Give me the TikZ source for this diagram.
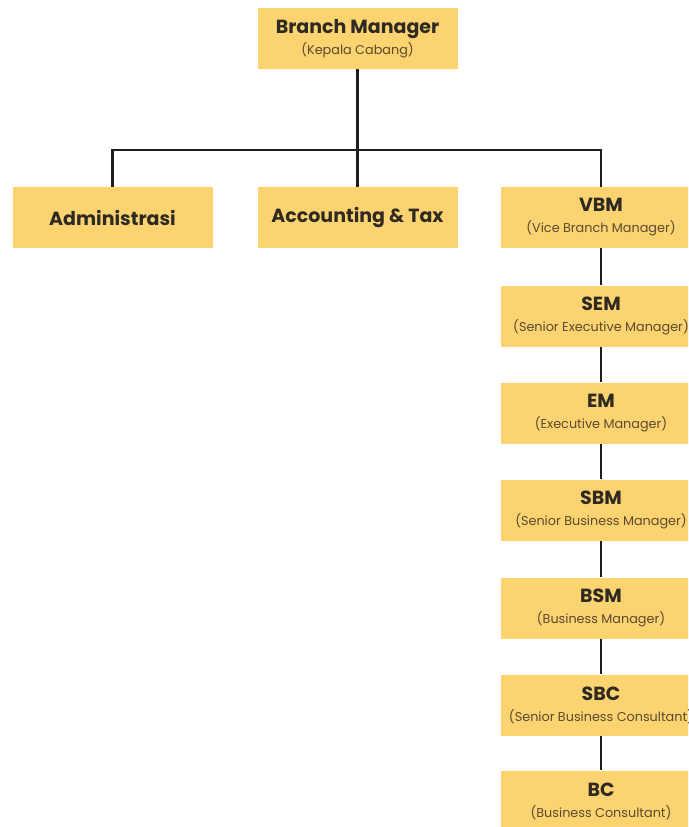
\documentclass[tikz,border=0pt]{standalone}
\usepackage{fontspec}
\setmainfont{Poppins}
\definecolor{boxfill}{HTML}{FCD371}
\definecolor{titlecol}{HTML}{2E2A22}
\definecolor{subcol}{HTML}{5A4A2E}
\definecolor{linecol}{HTML}{1E1E1E}
\tikzset{
  orgbox/.style={fill=boxfill, draw=none, minimum width=200pt, minimum height=61pt,
    inner sep=0pt, align=center, text=titlecol, font=\fontsize{19}{22}\selectfont\bfseries},
  link/.style={draw=linecol, line width=2.6pt},
}
\newcommand{\subt}[1]{\\[-1pt]{\color{subcol}\fontsize{12.8}{14}\selectfont\mdseries #1}}
\begin{document}
\begin{tikzpicture}[x=1pt,y=-1pt]
\useasboundingbox (0,0) rectangle (688,827);
\clip (0,0) rectangle (688,827);
\fill[white] (0,0) rectangle (688,827);
\node[orgbox] (bm) at (357.5,38.5) {Branch Manager\subt{(Kepala Cabang)}};
\node[orgbox] (adm) at (112.5,217.5) {Administrasi};
\node[orgbox] (acc) at (357.5,217.5) {Accounting \& Tax};
\node[orgbox] (vbm) at (601,217.5) {VBM\subt{(Vice Branch Manager)}};
\node[orgbox] (sem) at (601,316) {SEM\subt{(Senior Executive Manager)}};
\node[orgbox] (em) at (601,413) {EM\subt{(Executive Manager)}};
\node[orgbox] (sbm) at (601,510) {SBM\subt{(Senior Business Manager)}};
\node[orgbox] (bsm) at (601,608) {BSM\subt{(Business Manager)}};
\node[orgbox] (sbc) at (601,705) {SBC\subt{(Senior Business Consultant)}};
\node[orgbox] (bc) at (601,801) {BC\subt{(Business Consultant)}};
\coordinate (bus) at (357.5,150);
\path[link] (bm.south) -- (bus);
\path[link] (adm.north) |- (bus) -| (vbm.north);
\path[link] (acc.north) -- (bus);
\path[link] (vbm) -- (sem);
\path[link] (sem) -- (em);
\path[link] (em) -- (sbm);
\path[link] (sbm) -- (bsm);
\path[link] (bsm) -- (sbc);
\path[link] (sbc) -- (bc);
\end{tikzpicture}
\end{document}
